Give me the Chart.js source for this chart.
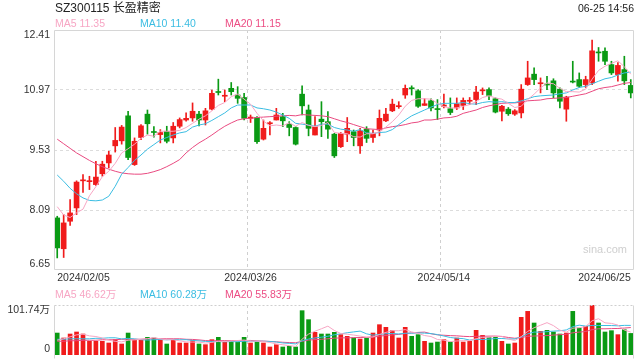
<!DOCTYPE html>
<html><head><meta charset="utf-8">
<script src="https://cdn.jsdelivr.net/npm/chart.js@4.4.1/dist/chart.umd.min.js"></script>
<style>
html,body{margin:0;padding:0;background:#fff;width:640px;height:360px;overflow:hidden;font-family:"Liberation Sans",Arial,"Noto Sans CJK SC",sans-serif;}
#wrap{position:relative;width:640px;height:360px;}
.t{position:absolute;white-space:nowrap;line-height:1;}
canvas{position:absolute;left:0;}
</style></head><body>
<div id="wrap">
<canvas id="pc" width="640" height="290" style="top:0"></canvas>
<canvas id="vc" width="640" height="70" style="top:290px"></canvas>
<div class="t" style="left:55px;top:2px;font-size:12px;color:#222">SZ300115 长盈精密</div>
<div class="t" style="right:6px;top:3px;font-size:10.5px;color:#222">06-25 14:56</div>
<div class="t" style="left:55px;top:18px;font-size:10.5px;color:#f7a6c4">MA5 11.35</div>
<div class="t" style="left:140px;top:18px;font-size:10.5px;color:#3bbde2">MA10 11.40</div>
<div class="t" style="left:225px;top:18px;font-size:10.5px;color:#ec4c83">MA20 11.15</div>
<div class="t" style="left:55px;top:289px;font-size:10.5px;color:#f7a6c4">MA5 46.62万</div>
<div class="t" style="left:140px;top:289px;font-size:10.5px;color:#3bbde2">MA10 60.28万</div>
<div class="t" style="left:225px;top:289px;font-size:10.5px;color:#ec4c83">MA20 55.83万</div>
<div class="t" style="left:583px;top:244px;font-size:11px;color:#cfcfcf">sina.com</div>
</div>
<script>
const dates = ['2024/02/05','2024/02/06','2024/02/07','2024/02/08','2024/02/19','2024/02/20','2024/02/21','2024/02/22','2024/02/23','2024/02/26','2024/02/27','2024/02/28','2024/02/29',
'2024/03/01','2024/03/04','2024/03/05','2024/03/06','2024/03/07','2024/03/08','2024/03/11','2024/03/12','2024/03/13','2024/03/14','2024/03/15','2024/03/18','2024/03/19','2024/03/20','2024/03/21','2024/03/22','2024/03/25','2024/03/26','2024/03/27','2024/03/28','2024/03/29',
'2024/04/01','2024/04/02','2024/04/03','2024/04/08','2024/04/09','2024/04/10','2024/04/11','2024/04/12','2024/04/15','2024/04/16','2024/04/17','2024/04/18','2024/04/19','2024/04/22','2024/04/23','2024/04/24','2024/04/25','2024/04/26','2024/04/29','2024/04/30',
'2024/05/06','2024/05/07','2024/05/08','2024/05/09','2024/05/10','2024/05/13','2024/05/14','2024/05/15','2024/05/16','2024/05/17','2024/05/20','2024/05/21','2024/05/22','2024/05/23','2024/05/24','2024/05/27','2024/05/28','2024/05/29','2024/05/30','2024/05/31',
'2024/06/03','2024/06/04','2024/06/05','2024/06/06','2024/06/07','2024/06/11','2024/06/12','2024/06/13','2024/06/14','2024/06/17','2024/06/18','2024/06/19','2024/06/20','2024/06/21','2024/06/24','2024/06/25'];
const tickDates = ['2024/02/05','2024/03/26','2024/05/14','2024/06/25'];
const gridDates = ['2024/03/26','2024/05/14'];
const priceTicks = [6.65, 8.09, 9.53, 10.97, 12.41];
const volTicks = [0, 101.74];
const volTickLabels = ['0', '101.74万'];

const opens = [7.90,7.16,7.82,8.14,8.79,8.77,8.70,8.96,9.22,9.63,
9.75,10.35,9.18,9.83,10.39,9.97,9.90,9.98,9.82,10.10,
10.25,10.30,10.39,10.25,10.51,10.93,10.82,11.01,10.85,10.79,
10.29,10.31,9.79,10.16,10.25,10.33,10.15,10.07,10.87,10.49,
9.89,10.27,10.21,9.91,9.61,9.91,9.97,9.63,10.03,9.83,
10.01,10.23,10.47,10.57,10.85,11.02,10.95,10.60,10.71,10.52,
10.58,10.52,10.54,10.60,10.70,10.74,10.95,10.98,10.76,10.46,
10.51,10.39,10.42,11.10,11.35,11.12,11.11,11.19,10.99,10.51,
11.18,11.22,11.10,11.14,11.88,11.90,11.58,11.34,11.46,11.08];
const highs = [7.94,7.98,8.34,8.79,8.94,8.90,9.26,9.26,9.50,10.07,
10.12,10.46,9.82,10.14,10.49,10.09,10.02,10.10,10.19,10.30,
10.42,10.66,10.46,10.53,10.97,11.23,10.97,11.15,11.05,10.89,
10.37,10.33,10.25,10.21,10.53,10.41,10.21,10.09,11.07,10.61,
10.33,10.69,10.45,9.93,9.95,10.31,10.01,10.05,10.09,10.01,
10.49,10.53,10.75,10.69,11.09,11.07,10.98,10.76,10.76,10.74,
10.87,10.78,10.78,10.78,10.79,11.06,11.02,11.02,10.78,10.60,
10.55,10.50,11.10,11.66,11.50,11.26,11.30,11.24,11.02,10.82,
11.66,11.38,11.30,12.17,11.99,11.98,11.66,11.63,11.78,11.22];
const lows = [6.94,6.95,7.72,7.98,8.51,8.58,8.68,8.90,9.10,9.48,
9.67,9.30,9.16,9.78,9.91,9.84,9.70,9.70,9.70,10.06,
10.22,10.22,10.11,10.13,10.49,10.85,10.69,10.85,10.65,10.25,
10.19,9.69,9.77,9.89,10.25,10.09,9.87,9.65,10.37,9.87,
9.89,9.85,9.81,9.35,9.59,9.73,9.63,9.45,9.71,9.71,
9.87,10.21,10.45,10.53,10.77,10.85,10.55,10.60,10.47,10.26,
10.54,10.38,10.50,10.50,10.62,10.62,10.86,10.74,10.42,10.23,
10.36,10.36,10.30,11.08,11.10,10.90,10.98,10.78,10.54,10.22,
11.14,11.03,11.03,11.10,11.66,11.58,11.34,11.18,11.10,10.78];
const closes = [7.18,7.78,8.02,8.76,8.81,8.79,8.88,9.19,9.41,9.76,
10.08,9.35,9.74,10.11,10.16,9.95,9.95,9.74,10.10,10.26,
10.29,10.46,10.25,10.47,10.89,10.91,10.84,10.93,10.77,10.29,
10.32,9.73,10.05,10.18,10.37,10.23,10.07,9.67,10.59,10.05,
10.09,10.21,10.03,9.39,9.93,10.05,9.83,9.99,9.81,9.93,
10.29,10.39,10.63,10.59,11.01,11.00,10.58,10.64,10.54,10.50,
10.61,10.43,10.64,10.72,10.72,10.92,10.97,10.84,10.44,10.58,
10.40,10.47,10.99,11.26,11.22,11.14,11.09,10.90,10.70,10.80,
11.16,11.06,11.22,11.91,11.86,11.66,11.38,11.56,11.19,10.90];
const ma5 = [8.17,7.97,7.91,8.02,8.11,8.43,8.65,8.89,9.02,9.21,
9.46,9.56,9.67,9.81,9.89,9.86,9.98,9.98,9.98,10.00,
10.07,10.17,10.27,10.35,10.47,10.60,10.67,10.81,10.87,10.75,
10.63,10.41,10.23,10.11,10.13,10.11,10.18,10.10,10.19,10.12,
10.09,10.12,10.19,9.95,9.93,9.92,9.85,9.84,9.92,9.92,
9.97,10.08,10.21,10.37,10.58,10.72,10.76,10.76,10.75,10.65,
10.57,10.54,10.54,10.58,10.62,10.69,10.79,10.83,10.78,10.75,
10.65,10.55,10.58,10.74,10.87,11.02,11.14,11.12,11.01,10.93,
10.93,10.92,10.99,11.23,11.44,11.54,11.61,11.67,11.53,11.35];
const ma10 = [8.93,8.78,8.61,8.48,8.38,8.32,8.31,8.33,8.42,8.66,
8.95,9.11,9.28,9.41,9.55,9.66,9.77,9.83,9.89,9.94,
9.97,10.08,10.13,10.16,10.24,10.33,10.42,10.54,10.61,10.61,
10.61,10.54,10.52,10.49,10.44,10.37,10.29,10.17,10.15,10.13,
10.10,10.15,10.15,10.07,10.03,10.01,9.98,10.02,9.94,9.93,
9.95,9.96,10.02,10.14,10.25,10.35,10.42,10.49,10.56,10.62,
10.65,10.65,10.65,10.67,10.64,10.63,10.67,10.69,10.68,10.69,
10.67,10.67,10.71,10.76,10.81,10.83,10.84,10.85,10.88,10.90,
10.97,11.03,11.06,11.12,11.18,11.24,11.27,11.33,11.38,11.40];
const ma20 = [9.79,9.68,9.57,9.46,9.37,9.28,9.20,9.13,9.07,9.02,
8.98,8.96,8.95,8.95,8.97,9.01,9.06,9.13,9.21,9.30,
9.46,9.59,9.70,9.79,9.89,10.00,10.10,10.18,10.25,10.28,
10.29,10.31,10.32,10.33,10.34,10.35,10.36,10.35,10.38,10.37,
10.36,10.35,10.33,10.28,10.23,10.19,10.14,10.09,10.04,10.03,
10.02,10.06,10.09,10.11,10.14,10.18,10.20,10.25,10.25,10.27,
10.30,10.31,10.34,10.41,10.45,10.49,10.55,10.59,10.62,10.65,
10.66,10.66,10.68,10.71,10.72,10.73,10.76,10.77,10.78,10.79,
10.82,10.85,10.88,10.94,11.00,11.03,11.05,11.09,11.13,11.15];
const volumes = [44.7,34.6,42.7,46.8,42.7,27.8,27.8,27.8,24.4,31.2,
22.4,44.7,31.2,31.2,35.9,34.6,31.2,22.4,31.2,24.4,
24.4,29.2,22.4,21.0,31.2,35.9,26.4,27.8,26.4,35.9,
24.4,26.4,24.4,16.3,21.0,16.3,17.6,16.3,90.2,71.9,
46.1,42.7,42.7,46.1,41.4,38.0,34.6,32.5,34.6,44.7,
61.7,56.3,49.5,34.6,56.3,38.0,41.4,27.8,24.4,26.4,
31.2,26.4,34.6,26.4,27.8,50.2,40.0,35.9,35.9,27.8,
22.4,24.4,76.6,88.8,65.1,48.1,50.2,46.8,42.7,44.7,
88.8,54.9,58.3,101.74,65.1,46.8,49.5,41.4,51.5,43.9];
const vma5 = [30,33,37,41,42.3,38.9,37.6,34.6,30.1,27.8,
26.7,30.1,30.8,32.1,33.1,35.5,32.8,31.1,31.1,28.8,
26.7,26.3,26.3,24.3,25.6,27.9,27.4,28.5,29.5,30.5,
28.2,28.2,27.5,25.5,22.5,20.9,19.1,17.5,32.3,42.5,
48.4,53.4,58.7,49.9,43.8,42.2,40.6,38.5,36.2,36.9,
41.6,46.0,49.4,49.4,51.7,46.9,44.0,39.6,37.6,31.6,
30.2,27.2,28.6,29.0,29.3,33.1,35.8,36.1,38.0,38.0,
32.4,29.3,37.4,48.0,55.5,60.6,65.8,59.8,50.6,46.5,
54.6,55.6,57.9,69.7,73.8,65.4,64.3,60.9,50.9,46.62];
const vma10 = [32,32,33,33,33,33,34,34,35,35.1,
32.8,33.8,32.7,31.1,30.4,31.1,31.5,30.9,31.6,30.9,
31.1,29.6,28.7,27.7,27.2,27.3,26.9,27.4,26.9,28.1,
28.1,27.8,28.0,27.5,26.5,24.5,23.7,22.5,28.9,32.5,
34.7,36.3,38.1,41.1,43.1,45.3,47.0,48.6,43.1,40.3,
41.9,43.3,43.9,42.8,44.3,44.3,45.0,44.5,43.5,41.6,
38.6,35.6,34.1,33.3,30.4,31.7,31.5,32.3,33.5,33.6,
32.7,32.5,36.7,43.0,46.7,46.5,47.5,48.6,49.3,51.0,
57.6,60.7,58.8,60.1,60.1,60.0,59.9,59.4,60.3,60.28];
const vma20 = [28,28,29,29,30,30,30,31,31,31,
32,32,32,32,33,33,33,33,33,33.0,
32.0,31.7,30.7,29.4,28.8,29.2,29.2,29.2,29.3,29.5,
29.6,28.7,28.3,27.6,26.8,25.9,25.3,24.9,27.9,30.3,
31.4,32.0,33.0,34.3,34.8,34.9,35.3,35.6,36.0,36.4,
38.3,39.8,41.0,41.9,43.7,44.8,46.0,46.6,43.3,41.0,
40.2,39.4,39.0,38.0,37.4,38.0,38.2,38.4,38.5,37.6,
35.7,34.1,35.4,38.1,38.6,39.1,39.5,40.5,41.4,42.3,
45.2,46.6,47.8,51.6,53.4,53.3,53.7,54.0,54.8,55.83];

const FONT = '"Liberation Sans", Arial, "Noto Sans CJK SC", sans-serif';
const UP = '#f01b1b', DOWN = '#0a9a14';
const C5 = '#f7a6c4', C10 = '#3bbde2', C20 = '#e94a80';
const candleColors = opens.map((o, i) => closes[i] >= o ? UP : DOWN);
const clear = 'rgba(0,0,0,0)';
const gridIdx = gridDates.map(d => dates.indexOf(d));

const ylab = {
  id: 'ylab',
  afterDraw(chart, args, o) {
    const s = chart.scales.y, ctx = chart.ctx;
    ctx.save();
    ctx.font = '10.5px ' + FONT;
    ctx.fillStyle = '#333';
    ctx.textAlign = 'right';
    ctx.textBaseline = 'middle';
    const n = o.values.length;
    o.values.forEach((v, i) => {
      let y = s.getPixelForValue(v);
      if (i === 0) y -= o.lowShift;
      if (i === n - 1) y += o.highShift;
      ctx.fillText(o.texts[i], 50, y);
    });
    ctx.restore();
  }
};
const frame = {
  id: 'frame',
  afterDraw(chart, args, o) {
    const a = chart.chartArea, ctx = chart.ctx;
    const l = Math.round(a.left) + 0.5, r = Math.round(a.right) - 0.5;
    const t = Math.round(a.top) + 0.5, b = Math.round(a.bottom) - 0.5;
    ctx.save();
    ctx.lineWidth = 1;
    ctx.strokeStyle = '#d6d6d6';
    ctx.beginPath();
    if (o.dottedTop) {
      ctx.moveTo(l, t); ctx.lineTo(l, b + 4);
      ctx.moveTo(r, t); ctx.lineTo(r, b + 4);
    } else {
      ctx.moveTo(l, t); ctx.lineTo(l, b); ctx.lineTo(r, b); ctx.lineTo(r, t); ctx.lineTo(l, t);
    }
    ctx.stroke();
    if (o.dottedTop) {
      ctx.setLineDash([2, 2]);
      ctx.strokeStyle = '#cfcfcf';
      ctx.beginPath(); ctx.moveTo(l, t); ctx.lineTo(r, t); ctx.stroke();
    }
    ctx.restore();
  }
};

const lineDs = (data, color) => ({type: 'line', data, borderColor: color, borderWidth: 1, pointRadius: 0, tension: 0, order: 0});

const xScale = (showTicks) => ({
  type: 'category', offset: true,
  grid: {offset: true, drawTicks: false, color: c => gridIdx.includes(c.index) ? '#cfcfcf' : clear},
  border: {display: false, dash: [3, 3]},
  ticks: showTicks ? {autoSkip: false, maxRotation: 0, minRotation: 0, align: 'inner', padding: 2, color: '#333',
    font: {size: 10.5, family: FONT}, callback: (v, i) => tickDates.includes(dates[i]) ? dates[i] : ''} : {display: false},
  afterFit: s => { s.height = showTicks ? 20 : 0; }
});

new Chart(document.getElementById('pc'), {
  data: {
    labels: dates,
    datasets: [
      lineDs(ma5, C5), lineDs(ma10, C10), lineDs(ma20, C20),
      {type: 'bar', data: lows.map((l, i) => [l, highs[i]]), backgroundColor: candleColors, barThickness: 1, grouped: false, order: 2},
      {type: 'bar', data: opens.map((o, i) => [o, closes[i]]), backgroundColor: candleColors, barThickness: 5, minBarLength: 1, grouped: false, order: 1}
    ]
  },
  options: {
    responsive: false, animation: false, devicePixelRatio: 1,
    layout: {padding: {left: 0, right: 6, top: 30, bottom: 0}},
    plugins: {legend: {display: false}, tooltip: {enabled: false},
      ylab: {values: priceTicks, texts: priceTicks.map(v => v.toFixed(2)), lowShift: 6, highShift: 5},
      frame: {dottedTop: false}},
    scales: {
      x: xScale(true),
      y: {min: 6.65, max: 12.41,
        afterBuildTicks: s => { s.ticks = priceTicks.map(v => ({value: v})); },
        grid: {drawTicks: false, color: c => (c.index === 0 || c.index === priceTicks.length - 1) ? clear : '#dcdcdc'},
        border: {display: false, dash: [3, 3]},
        ticks: {display: false},
        afterFit: s => { s.width = 54; }}
    }
  },
  plugins: [frame, ylab]
});

new Chart(document.getElementById('vc'), {
  data: {
    labels: dates,
    datasets: [
      lineDs(vma5, C5), lineDs(vma10, C10), lineDs(vma20, C20),
      {type: 'bar', data: volumes, backgroundColor: candleColors, barThickness: 4, grouped: false, order: 1}
    ]
  },
  options: {
    responsive: false, animation: false, devicePixelRatio: 1,
    layout: {padding: {left: 0, right: 6, top: 15, bottom: 5}},
    plugins: {legend: {display: false}, tooltip: {enabled: false},
      ylab: {values: volTicks, texts: volTickLabels, lowShift: 6, highShift: 5},
      frame: {dottedTop: true}},
    scales: {
      x: xScale(false),
      y: {min: 0, max: 101.74,
        grid: {display: false},
        border: {display: false},
        ticks: {display: false},
        afterFit: s => { s.width = 54; }}
    }
  },
  plugins: [frame, ylab]
});
</script>
</body></html>
